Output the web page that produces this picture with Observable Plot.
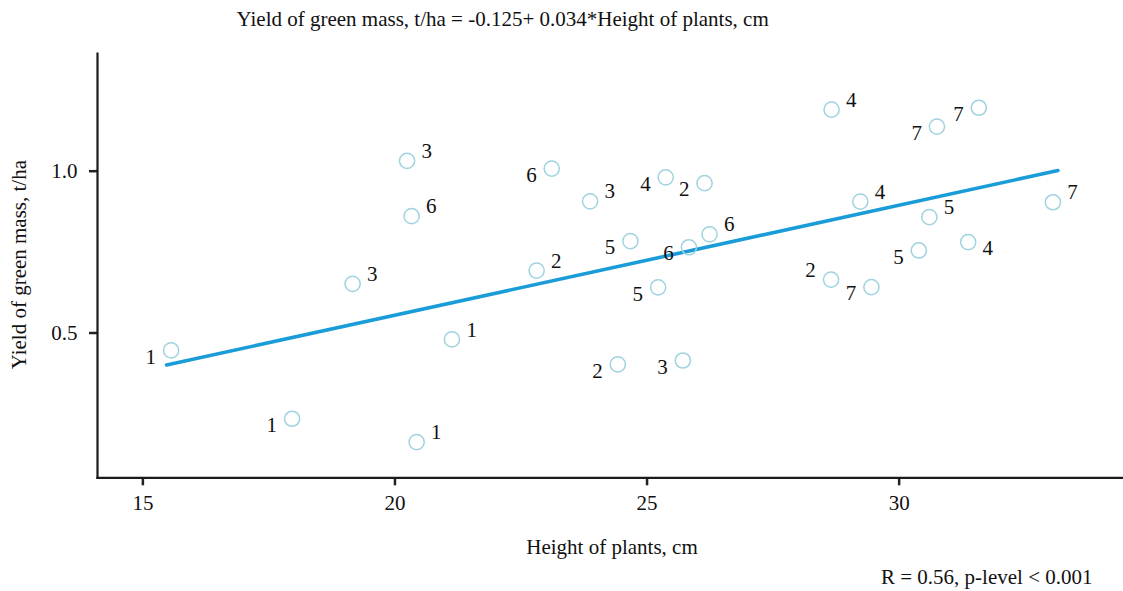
<!DOCTYPE html>
<html><head><meta charset="utf-8">
<script src="https://cdn.jsdelivr.net/npm/d3@7"></script>
<script src="https://cdn.jsdelivr.net/npm/@observablehq/plot@0.6"></script>
<style>body{margin:0;background:#fff} svg{display:block} svg text{font-family:'Liberation Serif','Times New Roman',serif !important}</style>
</head><body><div id="chart"></div>
<script>
// Data
const heights = [15.56, 20.24, 20.33, 19.16, 21.13, 17.96, 20.43, 22.81, 23.11, 23.87,
                 25.37, 26.14, 24.67, 25.83, 26.24, 25.22, 24.42, 25.71, 28.66, 30.75,
                 31.58, 29.23, 30.60, 30.39, 31.37, 28.65, 29.45, 33.05];
const yields  = [0.446, 1.032, 0.861, 0.652, 0.480, 0.235, 0.163, 0.693, 1.008, 0.907,
                 0.981, 0.963, 0.784, 0.765, 0.805, 0.641, 0.403, 0.415, 1.190, 1.138,
                 1.196, 0.906, 0.858, 0.755, 0.781, 0.665, 0.642, 0.904];
const groups  = ["1","3","6","3","1","1","1","2","6","3",
                 "4","2","5","6","6","5","2","3","4","7",
                 "7","4","5","5","4","2","7","7"];
// where each point's label sits: ur = up-right, dl = down-left, dr = down-right, ul = up-left
const labelSide = ["dl","ur","ur","ur","ur","dl","ur","ur","dl","ur",
                   "dl","dl","dl","dl","ur","dl","dl","dl","ur","dl",
                   "dl","ur","ur","dl","dr","ul","dl","ur"];
const xTicks = [15, 20, 25, 30];
const yTicks = [0.5, 1.0];
const intercept = -0.125;
const slope = 0.034;
const fitRange = [15.47, 33.15];
const titleText = "Yield of green mass, t/ha = -0.125+ 0.034*Height of plants, cm";
const xLabel = "Height of plants, cm";
const yLabel = "Yield of green mass, t/ha";
const caption = "R = 0.56, p-level < 0.001";

const pts = heights.map((h, i) => ({x: h, y: yields[i], g: groups[i], side: labelSide[i]}));
const fit = fitRange.map(x => ({x, y: intercept + slope * x}));

const font = "'Liberation Serif', 'Times New Roman', serif";
const sideOpts = {
  ur: {dx: 19.7, dy: -9.6},
  dl: {dx: -20.3, dy: 6.5},
  dr: {dx: 19.5, dy: 6},
  ul: {dx: -20.5, dy: -9.5}
};
const labelMarks = Object.entries(sideOpts).map(([side, o]) =>
  Plot.text(pts.filter(d => d.side === side), {
    x: "x", y: "y", text: "g", textAnchor: "middle", lineAnchor: "middle",
    dx: o.dx, dy: o.dy, fill: "#111", fontSize: 21, fontFamily: font
  })
);

const chart = Plot.plot({
  width: 1123, height: 591,
  marginLeft: 97, marginRight: 0, marginTop: 53, marginBottom: 113.7,
  style: {fontFamily: font, fontSize: "21px", color: "#111", background: "#fff", overflow: "visible"},
  x: {domain: [14.10, 34.45]},
  y: {domain: [0.0525, 1.3637]},
  marks: [
    Plot.axisX({ticks: xTicks, tickSize: 8, tickPadding: 9, label: null, strokeWidth: 2.5,
                stroke: "#222", tickFormat: d => String(d), fontSize: 21, fontFamily: font}),
    Plot.axisY({ticks: yTicks, tickSize: 8, tickPadding: 12, label: null, strokeWidth: 2.5,
                stroke: "#222", tickFormat: d3.format(".1f"), fontSize: 21, fontFamily: font}),
    Plot.frame({anchor: "left", stroke: "#1a1a1a", strokeWidth: 2.2}),
    Plot.frame({anchor: "bottom", stroke: "#1a1a1a", strokeWidth: 2.2}),
    Plot.line(fit, {x: "x", y: "y", stroke: "#1a9cd8", strokeWidth: 3.6}),
    Plot.dot(pts, {x: "x", y: "y", r: 7.6, stroke: "#9fd3df", strokeWidth: 1.5, fill: "none"}),
    ...labelMarks,
    Plot.text([titleText], {frameAnchor: "top-left", text: d => d, textAnchor: "start",
               lineAnchor: "middle", dx: 139, dy: -34.7, fontSize: 21, fontFamily: font, fill: "#111"}),
    Plot.text([xLabel], {frameAnchor: "bottom", text: d => d, textAnchor: "middle",
               lineAnchor: "middle", dx: 1.5, dy: 69.5, fontSize: 21, fontFamily: font, fill: "#111"}),
    Plot.text([yLabel], {frameAnchor: "left", text: d => d, textAnchor: "middle",
               lineAnchor: "middle", rotate: -90, dx: -78.7, dy: -1, fontSize: 21, fontFamily: font, fill: "#111"}),
    Plot.text([caption], {frameAnchor: "bottom-right", text: d => d, textAnchor: "end",
               lineAnchor: "middle", dx: -31, dy: 99, fontSize: 21, fontFamily: font, fill: "#111"})
  ]
});
document.getElementById("chart").appendChild(chart);
</script>
</body></html>
